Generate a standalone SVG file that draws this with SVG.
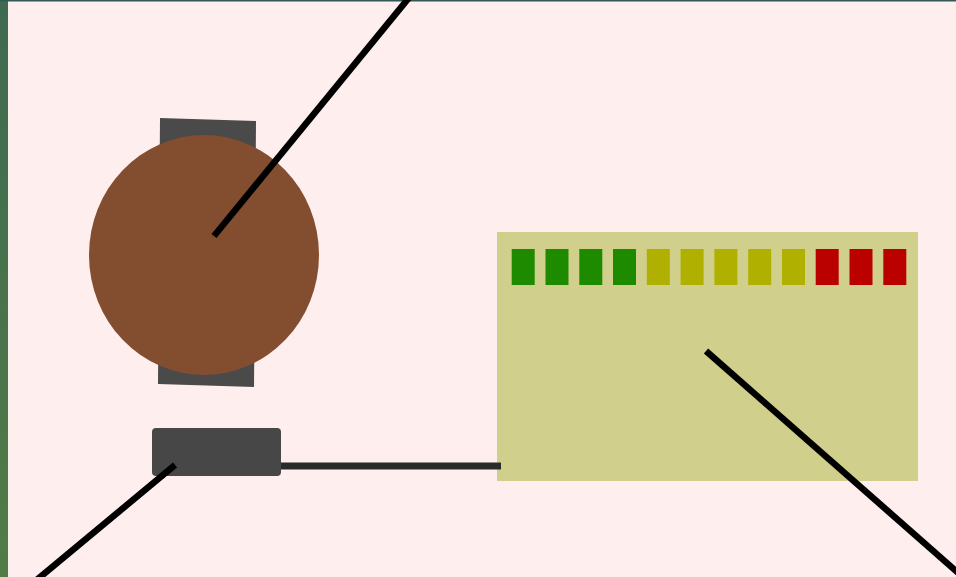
<svg xmlns="http://www.w3.org/2000/svg" width="956" height="577" viewBox="0 0 956 577">
<defs>
<linearGradient id="strip" x1="0" y1="0" x2="0" y2="1">
<stop offset="0" stop-color="#3e6a52"/>
<stop offset="1" stop-color="#527c46"/>
</linearGradient>
<style>
.led{stroke:none}
.g{fill:#1e8a00}
.y{fill:#b0b000}
.r{fill:#bb0000}
.pointer{stroke:#000;stroke-width:6.5;fill:none}
</style>
</defs>
<rect x="0" y="0" width="956" height="577" fill="#ffeeee"/>
<rect x="0" y="0" width="8" height="577" fill="url(#strip)"/>
<rect x="0" y="0" width="956" height="1.5" fill="#2f5a55"/>
<g id="motor">
<polygon points="160,118 256,121 254,387 158,384" fill="#4a4a4a"/>
<ellipse cx="204" cy="255" rx="115" ry="120" fill="#834d2f"/>
</g>
<g id="connector-block">
<rect x="152" y="428" width="129" height="48" rx="4" fill="#474747"/>
</g>
<g id="panel">
<rect x="497" y="232" width="421" height="249" fill="#d0d08c"/>
<rect class="led g" x="511.7" y="249" width="23" height="36"/>
<rect class="led g" x="545.5" y="249" width="23" height="36"/>
<rect class="led g" x="579.3" y="249" width="23" height="36"/>
<rect class="led g" x="613" y="249" width="23" height="36"/>
<rect class="led y" x="646.8" y="249" width="23" height="36"/>
<rect class="led y" x="680.6" y="249" width="23" height="36"/>
<rect class="led y" x="714.4" y="249" width="23" height="36"/>
<rect class="led y" x="748.2" y="249" width="23" height="36"/>
<rect class="led y" x="782" y="249" width="23" height="36"/>
<rect class="led r" x="815.7" y="249" width="23" height="36"/>
<rect class="led r" x="849.5" y="249" width="23" height="36"/>
<rect class="led r" x="883.3" y="249" width="23" height="36"/>
</g>
<g id="connectors">
<line x1="281" y1="466" x2="501" y2="466" stroke="#2a2a2a" stroke-width="7"/>
<line class="pointer" x1="214" y1="236" x2="412" y2="-6"/>
<line class="pointer" x1="175" y1="465" x2="33" y2="583"/>
<line class="pointer" x1="706" y1="351" x2="964" y2="578"/>
</g>
</svg>
